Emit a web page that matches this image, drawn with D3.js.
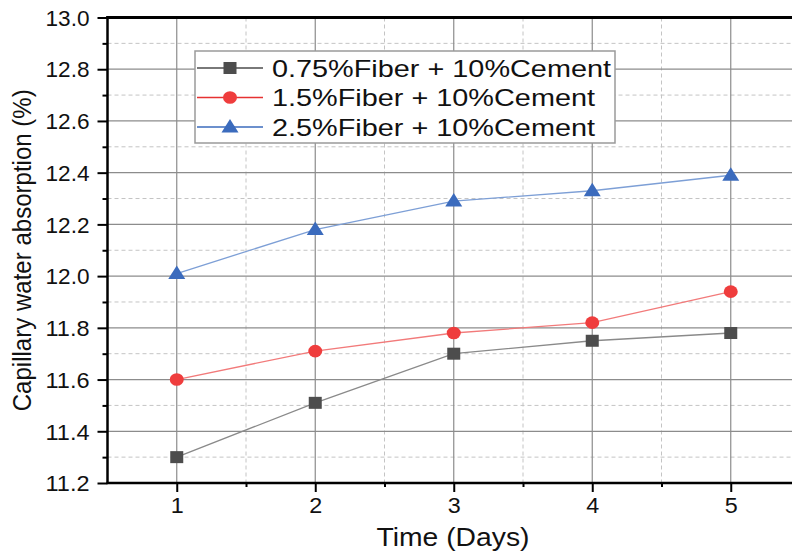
<!DOCTYPE html>
<html>
<head>
<meta charset="utf-8">
<script src="https://cdn.jsdelivr.net/npm/d3@7"></script>
<style>
  html, body { margin: 0; padding: 0; background: #fff; }
  svg { display: block; font-family: "Liberation Sans", Arial, sans-serif; }
</style>
</head>
<body>
<svg id="chart" width="792" height="557"></svg>
<script>
const days = [1, 2, 3, 4, 5];
const seriesNames = ["0.75%Fiber + 10%Cement", "1.5%Fiber + 10%Cement", "2.5%Fiber + 10%Cement"];
const fiber075 = [11.30, 11.51, 11.70, 11.75, 11.78];
const fiber15  = [11.60, 11.71, 11.78, 11.82, 11.94];
const fiber25  = [12.01, 12.18, 12.29, 12.33, 12.39];
const yTicks = [11.2, 11.4, 11.6, 11.8, 12.0, 12.2, 12.4, 12.6, 12.8, 13.0];
const xTicks = [1, 2, 3, 4, 5];
const xTitle = "Time (Days)";
const yTitle = "Capillary water absorption (%)";

const series = [
  { name: seriesNames[0], values: fiber075, marker: "square",   fill: "#4d4d4d", line: "#8a8a8a", legendLine: "#4d4d4d" },
  { name: seriesNames[1], values: fiber15,  marker: "circle",   fill: "#ef3d3d", line: "#f27a7a", legendLine: "#e63232" },
  { name: seriesNames[2], values: fiber25,  marker: "triangle", fill: "#3b6bbd", line: "#7d9fd6", legendLine: "#3b6bbd" }
];

const svg = d3.select("#chart");
const L = 107.5, T = 17.5, B = 483, R = 800;

const x = d3.scaleLinear().domain([0.5, 5.5]).range([L, R]);
const y = d3.scaleLinear().domain([11.2, 13.0]).range([B, T]);

const grid = svg.append("g");
const yMinor = d3.range(11.3, 13.0, 0.2).map(v => +v.toFixed(1));
const xMinor = [1.5, 2.5, 3.5, 4.5];
grid.selectAll(".ymin").data(yMinor).join("line")
  .attr("x1", L).attr("x2", R).attr("y1", d => y(d)).attr("y2", d => y(d))
  .attr("stroke", "#c4c4c4").attr("stroke-width", 1).attr("stroke-dasharray", "4,3");
grid.selectAll(".xmin").data(xMinor).join("line")
  .attr("y1", T).attr("y2", B).attr("x1", d => x(d)).attr("x2", d => x(d))
  .attr("stroke", "#c4c4c4").attr("stroke-width", 1).attr("stroke-dasharray", "4,3");
grid.selectAll(".ymaj").data(yTicks.slice(1, -1)).join("line")
  .attr("x1", L).attr("x2", R).attr("y1", d => y(d)).attr("y2", d => y(d))
  .attr("stroke", "#8c8c8c").attr("stroke-width", 1.2);
grid.selectAll(".xmaj").data(xTicks).join("line")
  .attr("y1", T).attr("y2", B).attr("x1", d => x(d)).attr("x2", d => x(d))
  .attr("stroke", "#8c8c8c").attr("stroke-width", 1.2);

const lineGen = d3.line().x((d, i) => x(days[i])).y(d => y(d));
series.forEach(s => {
  svg.append("path").datum(s.values).attr("d", lineGen)
    .attr("fill", "none").attr("stroke", s.line).attr("stroke-width", 1.3);
});

function drawMarker(g, type, cx, cy, fill) {
  if (type === "square") {
    g.append("rect").attr("x", cx - 6.5).attr("y", cy - 6).attr("width", 13).attr("height", 12).attr("fill", fill);
  } else if (type === "circle") {
    g.append("ellipse").attr("cx", cx).attr("cy", cy).attr("rx", 7).attr("ry", 6.3).attr("fill", fill);
  } else {
    g.append("path").attr("d", `M${cx},${cy - 8} L${cx + 8.5},${cy + 5.5} L${cx - 8.5},${cy + 5.5} Z`).attr("fill", fill);
  }
}
const marks = svg.append("g");
series.forEach(s => {
  s.values.forEach((v, i) => drawMarker(marks, s.marker, x(days[i]), y(v), s.fill));
});

const yAxisMajor = d3.axisLeft(y).tickValues(yTicks).tickSize(10).tickFormat(d3.format(".1f"));
const yAx = svg.append("g").attr("transform", `translate(${L},0)`).call(yAxisMajor);
yAx.select(".domain").remove();
yAx.selectAll(".tick line").attr("stroke", "#000").attr("stroke-width", 2);
yAx.selectAll(".tick text").attr("font-size", 21.5).attr("font-family", "Liberation Sans, Arial, sans-serif")
  .attr("fill", "#111").attr("x", -18).attr("dy", "0.36em")
  .attr("textLength", 44).attr("lengthAdjust", "spacingAndGlyphs");
const yMinAx = svg.append("g").attr("transform", `translate(${L},0)`)
  .call(d3.axisLeft(y).tickValues(yMinor).tickSize(5).tickFormat(""));
yMinAx.select(".domain").remove();
yMinAx.selectAll(".tick line").attr("stroke", "#000").attr("stroke-width", 2);

const xAx = svg.append("g").attr("transform", `translate(0,${B})`)
  .call(d3.axisBottom(x).tickValues(xTicks).tickSize(9).tickFormat(d3.format("d")));
xAx.select(".domain").remove();
xAx.selectAll(".tick line").attr("stroke", "#000").attr("stroke-width", 2);
xAx.selectAll(".tick text").attr("font-size", 21.5).attr("font-family", "Liberation Sans, Arial, sans-serif")
  .attr("fill", "#111").attr("y", 15).attr("dy", "0.71em")
  .attr("textLength", 13).attr("lengthAdjust", "spacingAndGlyphs");
const xMinAx = svg.append("g").attr("transform", `translate(0,${B})`)
  .call(d3.axisBottom(x).tickValues(xMinor).tickSize(4).tickFormat(""));
xMinAx.select(".domain").remove();
xMinAx.selectAll(".tick line").attr("stroke", "#000").attr("stroke-width", 2);

svg.append("line").attr("x1", L).attr("x2", L).attr("y1", T - 1.5).attr("y2", B + 1)
  .attr("stroke", "#000").attr("stroke-width", 2.5);
svg.append("line").attr("x1", L - 1).attr("x2", R).attr("y1", B).attr("y2", B)
  .attr("stroke", "#000").attr("stroke-width", 2.5);
svg.append("line").attr("x1", L - 1).attr("x2", R).attr("y1", T).attr("y2", T)
  .attr("stroke", "#000").attr("stroke-width", 3);

svg.append("text").attr("x", 453).attr("y", 546).attr("text-anchor", "middle")
  .attr("font-size", 25).attr("fill", "#111")
  .attr("textLength", 153).attr("lengthAdjust", "spacingAndGlyphs").text(xTitle);
svg.append("text").attr("transform", `translate(31,${(T + B) / 2}) rotate(-90)`)
  .attr("text-anchor", "middle").attr("font-size", 26).attr("fill", "#111")
  .attr("textLength", 322).attr("lengthAdjust", "spacingAndGlyphs").text(yTitle);

const lg = svg.append("g");
lg.append("rect").attr("x", 195).attr("y", 51).attr("width", 420).attr("height", 92)
  .attr("fill", "#fff").attr("stroke", "#9a9a9a").attr("stroke-width", 1.5);
const rowY = [68, 97.5, 127];
const textW = [339, 323, 323];
series.forEach((s, i) => {
  const ry = rowY[i];
  lg.append("line").attr("x1", 197).attr("x2", 263).attr("y1", ry).attr("y2", ry)
    .attr("stroke", s.legendLine).attr("stroke-width", 1.3);
  drawMarker(lg, s.marker, 230, ry, s.fill);
  lg.append("text").attr("x", 272).attr("y", ry + 8.5).attr("font-size", 24).attr("fill", "#111")
    .attr("textLength", textW[i]).attr("lengthAdjust", "spacingAndGlyphs").text(s.name);
});
</script>
</body>
</html>
